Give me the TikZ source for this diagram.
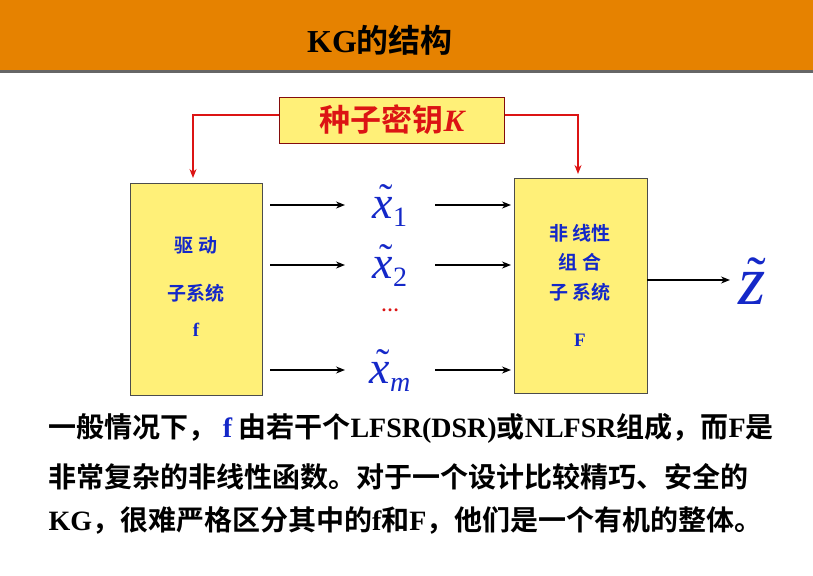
\documentclass[tikz,border=0pt]{standalone}
\usepackage{fontspec}
\usetikzlibrary{arrows.meta}
\setmainfont{Liberation Serif}
\newfontfamily\cjk{Noto Sans CJK SC}[BoldFont={Noto Sans CJK SC Bold}]
\newcommand{\lt}[1]{{\rmfamily\bfseries #1}}
\newcommand{\tx}[1]{\makebox[0pt][l]{\hspace{7pt}\raisebox{7pt}{\fontsize{40}{40}\selectfont\char"02DC}}{\fontsize{46}{46}\selectfont\itshape x}\raisebox{-8pt}{\fontsize{28}{28}\selectfont #1}}
\definecolor{hdr}{RGB}{230,130,0}
\definecolor{bx}{RGB}{255,240,120}
\definecolor{blu}{RGB}{20,40,200}
\definecolor{rd}{RGB}{220,20,20}
\begin{document}
\begin{tikzpicture}[x=1pt,y=-1pt,
  sbox/.style={draw=black!70,fill=bx,line width=0.6pt},
  arr/.style={-{Stealth[length=9pt,width=7pt]},line width=1.4pt},
  rarr/.style={-{Stealth[length=9pt,width=7pt]},line width=1.4pt,draw=rd},
  lbl/.style={font=\cjk\bfseries\fontsize{19}{22}\selectfont,text=blu,align=center},
  xl/.style={text=blu,inner sep=0pt,anchor=base},
  body/.style={anchor=west,font=\cjk\bfseries\fontsize{28}{30}\selectfont}]
\useasboundingbox (0,0) rectangle (813,575);
\fill[hdr] (0,0) rectangle (813,70);
\fill[black!60] (0,70) rectangle (813,73);
\node (title) at (380,40) {\cjk\bfseries\fontsize{32}{34}\selectfont \lt{KG}的结构};
\node[draw=rd!60!black,fill=bx,minimum width=225pt,minimum height=46pt,line width=0.8pt] (key) at (392,120)
  {\cjk\bfseries\fontsize{31}{33}\selectfont\color{rd}种子密钥\lt{\itshape K}};
\node[sbox,minimum width=132pt,minimum height=212pt] (f) at (196,289) {};
\node[sbox,minimum width=133pt,minimum height=215pt] (F) at (580.5,285.5) {};
\node[lbl] at (196,245) {驱\ 动};
\node[lbl] at (196,293) {子系统};
\node[lbl] at (196,330) {\lt{f}};
\node[lbl] at (580,233) {非\ 线性};
\node[lbl] at (580,262) {组\ 合};
\node[lbl] at (580,292) {子\ 系统};
\node[lbl] at (580,340) {\lt{F}};
\draw[rarr] (key.west|-0,115) -| (193,178);
\draw[rarr] (key.east|-0,115) -| (578,174);
\foreach \y/\s in {205/1,265/2,370/\itshape m}{
  \node[xl] at (390,\y+13) {\tx{\s}};
  \draw[arr] (270,\y) -- (345,\y);
  \draw[arr] (435,\y) -- (511,\y);
}
\node[text=rd,font=\bfseries\fontsize{18}{18}\selectfont] (dots) at (390,310) {\dots};
\node[text=blu,inner sep=0pt,anchor=base] (z) at (752,304) {\makebox[0pt][l]{\hspace{9pt}\raisebox{9pt}{\fontsize{56}{56}\selectfont\char"02DC}}{\fontsize{70}{70}\selectfont\itshape z}};
\draw[arr] (F.east|-0,280) -- (730,280);
\node[body] (l1) at (45,428) {一般情况下，\ \textcolor{blu}{\lt{f}} 由若干个\lt{LFSR(DSR)}或\lt{NLFSR}组成，而\lt{F}是};
\node[body] (l2) at (45,477) {非常复杂的非线性函数。对于一个设计比较精巧、安全的};
\node[body] (l3) at (45,521) {\lt{KG}，很难严格区分其中的\lt{f}和\lt{F}，他们是一个有机的整体。};
\end{tikzpicture}
\end{document}
